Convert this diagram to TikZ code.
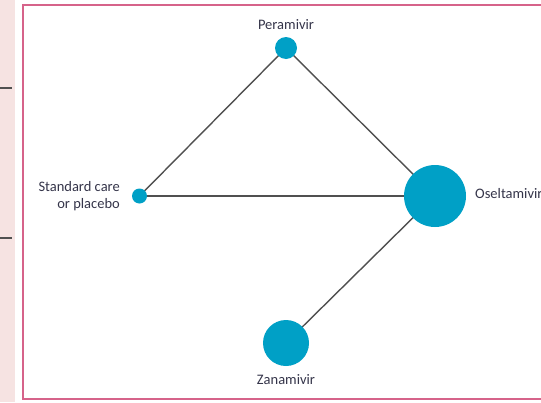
\documentclass[tikz,border=0pt]{standalone}
\usepackage{fontspec}
\setmainfont{Carlito}
\definecolor{trialblue}{HTML}{00A0C6}
\definecolor{edgegray}{HTML}{505050}
\definecolor{framepink}{HTML}{D6638A}
\definecolor{stripbg}{HTML}{F6E3E2}
\definecolor{labelgray}{HTML}{35354A}
\begin{document}
\begin{tikzpicture}[x=1pt,y=-1pt,
  treat/.style={circle,fill=trialblue,inner sep=0pt,minimum size=#1},
  link/.style={draw=edgegray,line width=1.4pt},
  lbl/.style={text=labelgray,font=\fontsize{14.5}{17.5}\selectfont,inner sep=0pt}]
  \clip (0,0) rectangle (541,402);
  \fill[white] (0,0) rectangle (541,402);
  % side strip with tick marks
  \fill[stripbg] (0,0) rectangle (15,402);
  \draw[edgegray,line width=1.5pt] (0,88) -- (12,88);
  \draw[edgegray,line width=1.5pt] (0,238) -- (12,238);
  % frame
  \draw[framepink,line width=1.8pt] (560,5) -- (23,5) -- (23,399) -- (560,399);
  % treatments
  \coordinate (per) at (286,48);
  \coordinate (std) at (139.5,196);
  \coordinate (ose) at (435,196);
  \coordinate (zan) at (286,343);
  % comparisons
  \draw[link] (std) -- (per);
  \draw[link] (per) -- (ose);
  \draw[link] (std) -- (ose);
  \draw[link] (ose) -- (zan);
  \node[treat=22pt] (nper) at (per) {};
  \node[treat=15pt] (nstd) at (std) {};
  \node[treat=62pt] (nose) at (ose) {};
  \node[treat=46pt] (nzan) at (zan) {};
  % labels
  \node[lbl,anchor=south] (lper) at (286,30) {Peramivir};
  \node[lbl,anchor=east,align=right] (lstd) at (120,196) {Standard care\\or placebo};
  \node[lbl,anchor=west] (lose) at (475,194) {Oseltamivir};
  \node[lbl,anchor=north] (lzan) at (286,374) {Zanamivir};
\end{tikzpicture}
\end{document}
